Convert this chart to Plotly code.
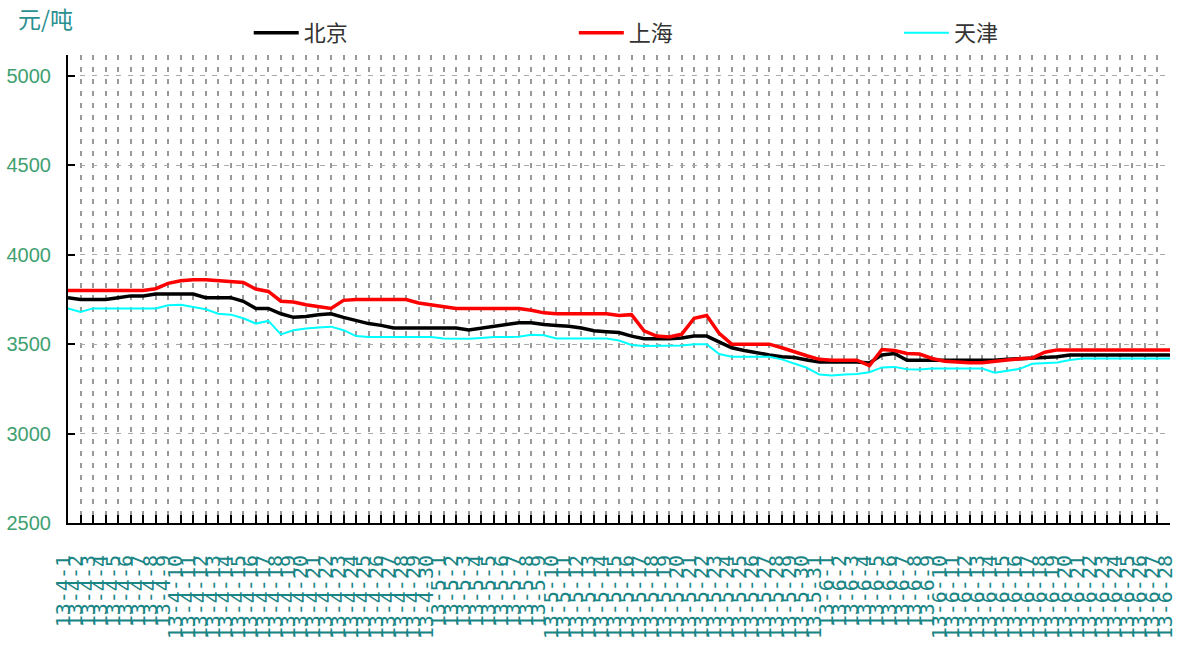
import plotly.graph_objects as go
import pandas as pd

dates = [f"13-{d.month}-{d.day}" for d in pd.date_range("2013-04-01", "2013-06-28")]

beijing = [3760,3750,3750,3750,3760,3770,3770,3780,3780,3780,
           3780,3760,3760,3760,3740,3700,3700,3670,3650,3655,
           3665,3670,3650,3630,3615,3605,3590,3590,3590,3590,
           3590,3590,3580,3590,3600,3610,3620,3620,3610,3605,
           3600,3590,3575,3570,3565,3545,3530,3530,3530,3535,
           3545,3545,3515,3480,3465,3450,3440,3430,3425,3412,
           3400,3400,3400,3400,3395,3440,3448,3410,3410,3410,
           3410,3410,3410,3410,3410,3415,3418,3420,3425,3430,
           3440,3440,3440,3440,3440,3440,3440,3440,3440]

shanghai = [3800,3800,3800,3800,3800,3800,3800,3810,3840,3855,
            3860,3860,3855,3848,3845,3808,3795,3740,3736,3720,
            3710,3700,3745,3750,3750,3750,3750,3750,3730,3720,
            3712,3700,3700,3700,3700,3700,3700,3690,3675,3670,
            3670,3670,3670,3670,3660,3665,3575,3545,3540,3555,
            3645,3660,3560,3500,3500,3500,3500,3480,3455,3435,
            3415,3410,3410,3410,3380,3470,3465,3448,3445,3420,
            3405,3400,3396,3396,3405,3412,3418,3422,3455,3468,
            3468,3468,3468,3468,3468,3468,3468,3468,3468]

tianjin = [3700,3680,3700,3700,3700,3700,3700,3700,3718,3720,
           3708,3695,3670,3665,3645,3615,3630,3555,3578,3588,
           3593,3598,3578,3545,3540,3540,3540,3540,3540,3540,
           3532,3530,3530,3535,3540,3540,3542,3552,3550,3532,
           3532,3532,3532,3532,3520,3495,3490,3490,3490,3492,
           3500,3500,3445,3430,3430,3430,3430,3415,3392,3368,
           3330,3325,3330,3333,3343,3370,3373,3360,3358,3364,
           3364,3364,3364,3364,3340,3350,3362,3390,3396,3398,
           3411,3420,3420,3420,3420,3420,3420,3420,3420]

series_names = ["北京", "上海", "天津"]
series_colors = ["#000000", "#ff0000", "#00ffff"]
series_widths = [3.5, 3.5, 2]
legend_ids = ["legend", "legend2", "legend3"]
legend_x = [0.164, 0.459, 0.754]
y_ticks = [2500, 3000, 3500, 4000, 4500, 5000]

fig = go.Figure()
for name, vals, col, w, lg in zip(series_names, [beijing, shanghai, tianjin],
                                  series_colors, series_widths, legend_ids):
    fig.add_trace(go.Scatter(x=dates, y=vals, mode="lines", name=name,
                             line=dict(color=col, width=w), legend=lg))

legend_style = dict(orientation="h", y=1.047, yanchor="middle", xanchor="left",
                    itemwidth=45,
                    font=dict(size=22, color="#333333", family="Noto Sans CJK SC"),
                    bgcolor="rgba(255,255,255,0)")
fig.update_layout(
    width=1178, height=661,
    margin=dict(l=68, r=8, t=55, b=138, autoexpand=False),
    paper_bgcolor="white", plot_bgcolor="white",
    font=dict(family="Liberation Sans, Arial, sans-serif"),
    showlegend=True,
    legend=dict(x=legend_x[0], **legend_style),
    legend2=dict(x=legend_x[1], **legend_style),
    legend3=dict(x=legend_x[2], **legend_style),
)

fig.update_xaxes(
    type="category", range=[0, 88], automargin=False,
    showline=True, linecolor="black", linewidth=2,
    ticks="inside", ticklen=8, tickcolor="black", tickwidth=1.5,
    tickmode="linear", dtick=1,
    tickangle=-90, ticklabelstandoff=22, ticklabelshift=-5,
    tickfont=dict(size=20, color="#1a8585", family="DejaVu Sans Mono"),
    showgrid=True, gridcolor="#999999", gridwidth=2, griddash="5px,7px",
    zeroline=False,
)

fig.update_yaxes(
    range=[2500, 5117], automargin=False,
    showline=True, linecolor="black", linewidth=2,
    ticks="inside", ticklen=7, tickcolor="black", tickwidth=1.5,
    tickvals=y_ticks, ticktext=[str(v) for v in y_ticks],
    ticklabelstandoff=11,
    tickfont=dict(size=20, color="#40a070", family="Liberation Sans"),
    showgrid=True, gridcolor="#aaaaaa", gridwidth=1, griddash="5px,7px",
    zeroline=False,
)

fig.add_annotation(text="元/吨", xref="paper", yref="paper", x=-0.047, y=1.08,
                   xanchor="left", yanchor="middle", showarrow=False,
                   font=dict(size=23, color="#2a9090", family="Noto Sans CJK SC"))

fig.write_html("out.html", config={"displayModeBar": False},
               post_script="document.body.style.margin='0';document.body.style.overflow='hidden';")
